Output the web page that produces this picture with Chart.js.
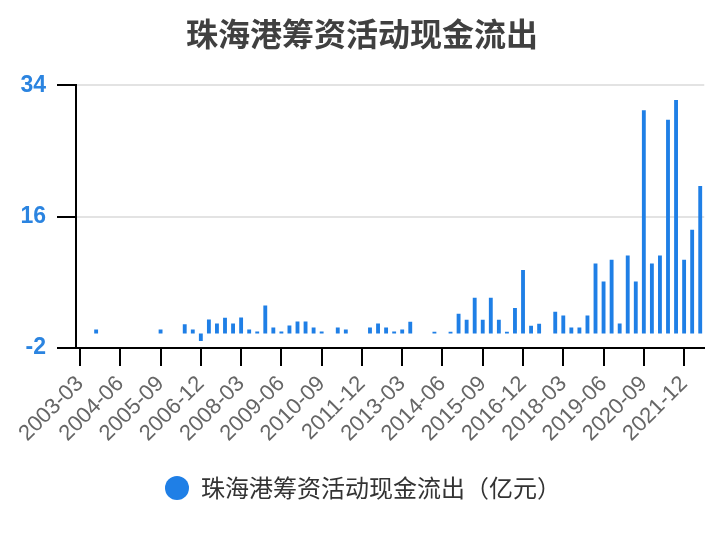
<!DOCTYPE html>
<html>
<head>
<meta charset="utf-8">
<script src="https://cdn.jsdelivr.net/npm/chart.js@4"></script>
<style>
html,body{margin:0;padding:0;background:#fff;}
#wrap{width:724px;height:540px;}
</style>
</head>
<body>
<div id="wrap"><canvas id="c" width="724" height="540"></canvas></div>
<script>
const titleText = '珠海港筹资活动现金流出';
const seriesName = '珠海港筹资活动现金流出（亿元）';
const categories = [
 '2003-03','2003-06','2003-09','2003-12','2004-03','2004-06','2004-09','2004-12',
 '2005-03','2005-06','2005-09','2005-12','2006-03','2006-06','2006-09','2006-12',
 '2007-03','2007-06','2007-09','2007-12','2008-03','2008-06','2008-09','2008-12',
 '2009-03','2009-06','2009-09','2009-12','2010-03','2010-06','2010-09','2010-12',
 '2011-03','2011-06','2011-09','2011-12','2012-03','2012-06','2012-09','2012-12',
 '2013-03','2013-06','2013-09','2013-12','2014-03','2014-06','2014-09','2014-12',
 '2015-03','2015-06','2015-09','2015-12','2016-03','2016-06','2016-09','2016-12',
 '2017-03','2017-06','2017-09','2017-12','2018-03','2018-06','2018-09','2018-12',
 '2019-03','2019-06','2019-09','2019-12','2020-03','2020-06','2020-09','2020-12',
 '2021-03','2021-06','2021-09','2021-12','2022-03','2022-06'
];
const outflow = [
 0, 0, 0.55, 0, 0, 0, 0, 0,
 0, 0, 0.55, 0, 0, 1.27, 0.55, -1.05,
 1.9, 1.37, 2.15, 1.37, 2.19, 0.55, 0.27, 3.83,
 0.82, 0.27, 1.09, 1.64, 1.64, 0.82, 0.27, 0,
 0.82, 0.55, 0, 0, 0.82, 1.37, 0.82, 0.27,
 0.55, 1.6, 0, 0, 0.23, 0, 0.23, 2.7,
 1.87, 4.88, 1.87, 4.88, 1.87, 0.23, 3.5, 8.7,
 1.05, 1.33, 0, 2.97, 2.46, 0.82, 0.82, 2.46,
 9.58, 7.11, 10.1, 1.37, 10.67, 7.11, 30.6, 9.58,
 10.67, 29.3, 32.0, 10.1, 14.2, 20.2
];
const yTicks = [-2, 16, 34];
const labelEvery = 5;

const blue = '#1f7fe6';

const blockShift = {
  id: 'blockShift',
  afterLayout(chart) {
    const lg = chart.legend;
    if (lg) { lg.left += 10; lg.right += 10; }
    const tb = chart.titleBlock;
    if (tb) { tb.left += 9; tb.right += 9; }
  }
};

new Chart(document.getElementById('c'), {
  type: 'bar',
  data: {
    labels: categories,
    datasets: [{
      label: seriesName,
      data: outflow,
      backgroundColor: blue,
      borderWidth: 0,
      categoryPercentage: 0.8,
      barPercentage: 0.6
    }]
  },
  plugins: [blockShift],
  options: {
    responsive: false,
    animation: false,
    devicePixelRatio: 1,
    layout: { padding: { left: 0, right: 18, top: 0, bottom: 30 } },
    plugins: {
      title: {
        display: true,
        text: titleText,
        color: '#404040',
        font: { family: '"Noto Sans CJK SC", sans-serif', size: 32, weight: 'bold' },
        padding: { top: 15, bottom: 32 }
      },
      legend: {
        display: true,
        position: 'bottom',
        labels: {
          usePointStyle: true,
          pointStyle: 'circle',
          pointStyleWidth: 24,
          boxHeight: 17,
          boxWidth: 24,
          color: '#333',
          font: { family: '"Noto Sans CJK SC", sans-serif', size: 24 }
        }
      },
      tooltip: { enabled: false }
    },
    scales: {
      x: {
        grid: {
          display: true,
          drawOnChartArea: false,
          offset: false,
          tickLength: 18,
          lineWidth: 2,
          color: (ctx) => (ctx.index % labelEvery === 0 ? '#000' : 'rgba(0,0,0,0)')
        },
        border: { display: true, color: '#000', width: 2 },
        ticks: {
          autoSkip: false,
          maxRotation: 45,
          minRotation: 45,
          padding: 5,
          color: '#666',
          font: { family: '"Liberation Sans", Arial, sans-serif', size: 22 },
          callback: function (v, i) { return i % labelEvery === 0 ? categories[i] : ''; }
        },
        afterFit: (s) => { s.height = 118; }
      },
      y: {
        min: yTicks[0],
        max: yTicks[yTicks.length - 1],
        afterBuildTicks: (s) => { s.ticks = yTicks.map(v => ({ value: v })); },
        grid: {
          color: '#e3e3e3',
          lineWidth: 2,
          tickColor: '#000',
          tickLength: 19
        },
        border: { display: true, color: '#000', width: 2 },
        ticks: {
          color: '#2b84e0',
          padding: 11,
          font: { family: '"Liberation Sans", Arial, sans-serif', size: 23, weight: 'bold' }
        },
        afterFit: (s) => { s.width = 76; }
      }
    }
  }
});
</script>
</body>
</html>
